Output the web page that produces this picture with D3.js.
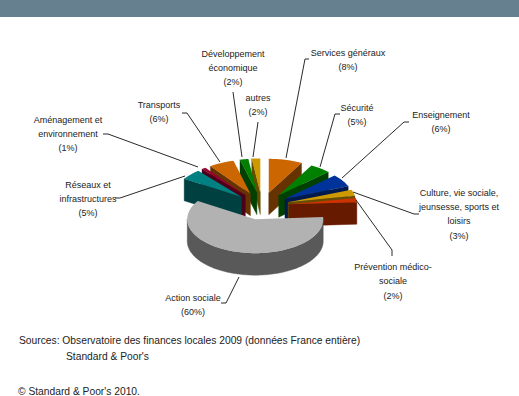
<!DOCTYPE html>
<html>
<head>
<meta charset="utf-8">
<script src="https://cdn.jsdelivr.net/npm/d3@7/dist/d3.min.js"></script>
<style>
html,body{margin:0;padding:0;background:#fff;}
svg{display:block;}
text{font-family:"Liberation Sans",Arial,sans-serif;fill:#222;}
</style>
</head>
<body>
<svg id="chart" width="519" height="396"></svg>
<script>
// Spending categories, clockwise from twelve o'clock
const categories = ["Services généraux","Sécurité","Enseignement","Culture, vie sociale, jeunsesse, sports et loisirs","Prévention médico-sociale","Action sociale","Réseaux et infrastructures","Aménagement et environnement","Transports","Développement économique","autres"];
const shares = [8,5,6,3,2,60,5,1,6,2,2];
const topColors = ["#CC6600","#008000","#003399","#CC9900","#CC3300","#B2B2B2","#008080","#990033","#CC6600","#008000","#CC9900"];
const sideColors = ["#663300","#004000","#001A4D","#664D00","#661A00","#595959","#004040","#4D001A","#663300","#004000","#664D00"];

// Label lines per category, with the centre and first baseline of each block
const labelLines = [
  ["Services généraux"],["Sécurité"],["Enseignement"],
  ["Culture, vie sociale,","jeunsesse, sports et","loisirs"],
  ["Prévention médico-","sociale"],["Action sociale"],
  ["Réseaux et","infrastructures"],["Aménagement et","environnement"],
  ["Transports"],["Développement","économique"],["autres"]
];
const labelAnchors = [[348,55.5],[357,110.5],[441,118],[459,195.5],[393,270],[193,300.5],[88,187.5],[68,122.5],[159,108],[233,56.5],[258,100.5]];
const leaders = [
  [[286,158],[305,59],[309,59]],
  [[320,167],[335,114],[340,114]],
  [[342,178],[404,122],[409,122]],
  [[353,192],[414,214],[419,214]],
  [[356,200],[392,250],[392,256]],
  [[239,277],[226,303],[221,303]],
  [[185,176],[120,198],[115,198]],
  [[198,167],[108,134],[103,134]],
  [[220,162],[187,113],[182,113]],
  [[242,157],[233,92]],
  [[253,157],[258,122]]
];
const footnotes = [
  {text:"Sources: Observatoire des finances locales 2009 (données France entière)",x:19,y:344},
  {text:"Standard & Poor's",x:66,y:360},
  {text:"© Standard & Poor's 2010.",x:18,y:395}
];

const svg = d3.select("#chart");
svg.append("rect").attr("width",519).attr("height",17).attr("fill","#678090");

// Tilted-disc projection: unit circle onto the chart plane
const cx = 262, cy = 206, rx = 68, ry = 34, depth = 22, explode = 0.4;
const sx = d3.scaleLinear().domain([-1,1]).range([cx-rx,cx+rx]);
const sy = d3.scaleLinear().domain([-1,1]).range([cy+ry,cy-ry]);

const arcs = d3.pie().sort(null).value(d=>d).startAngle(0).endAngle(2*Math.PI)(shares)
  .map((a,i)=>{
    const mid = (a.startAngle+a.endAngle)/2;
    return {...a,i,mid,ox:explode*Math.sin(mid),oy:explode*Math.cos(mid)};
  });

const pt = (a,t,r=1)=>[sx(a.ox+r*Math.sin(t)),sy(a.oy+r*Math.cos(t))];
const lineGen = d3.line();
const down = p=>[p[0],p[1]+depth];
const sweep = (a,t0,t1)=>{
  const n = Math.max(2,Math.ceil((t1-t0)/0.03));
  return d3.range(n+1).map(k=>pt(a,t0+(t1-t0)*k/n));
};

// Back slices first, so nearer ones overlap them
const ordered = arcs.slice().sort((p,q)=>q.oy-p.oy);
const plot = svg.append("g");
ordered.forEach(a=>{
  const apex = pt(a,0,0);
  const g = plot.append("g");
  const side = sideColors[a.i];
  // radial wall that faces the viewer
  const wallAngle = a.mid<Math.PI ? a.endAngle : a.startAngle;
  if (a.i!==5) {
    const edge = pt(a,wallAngle);
    g.append("path").attr("d",lineGen([apex,edge,down(edge),down(apex)])+"Z").attr("fill",side).attr("stroke",side).attr("stroke-width",0.4);
  }
  // curved outer wall, on the front half only
  const t0 = Math.max(a.startAngle,Math.PI/2), t1 = Math.min(a.endAngle,3*Math.PI/2);
  if (t1>t0) {
    const rim = sweep(a,t0,t1);
    g.append("path").attr("d",lineGen(rim.concat(rim.slice().reverse().map(down)))+"Z").attr("fill",side).attr("stroke",side).attr("stroke-width",0.4);
  }
  g.append("path").attr("d",lineGen([apex].concat(sweep(a,a.startAngle,a.endAngle)))+"Z").attr("fill",topColors[a.i]);
});

// Leader lines
svg.append("g").selectAll("path").data(leaders).join("path")
  .attr("d",d=>lineGen(d)).attr("fill","none").attr("stroke","#111").attr("stroke-width",0.9);

// Category labels with their percentages, set slightly condensed
const labels = svg.append("g").attr("font-size",9.6).attr("text-anchor","middle");
labelLines.forEach((lines,i)=>{
  const [x,y] = labelAnchors[i];
  lines.concat([`(${shares[i]}%)`]).forEach((s,k)=>{
    labels.append("text").attr("transform",`translate(${x},${y+k*14.4}) scale(0.94,1)`).text(s);
  });
});

svg.append("g").attr("font-size",11).selectAll("text").data(footnotes).join("text")
  .attr("transform",d=>`translate(${d.x},${d.y}) scale(0.935,1)`).text(d=>d.text);
</script>
</body>
</html>
